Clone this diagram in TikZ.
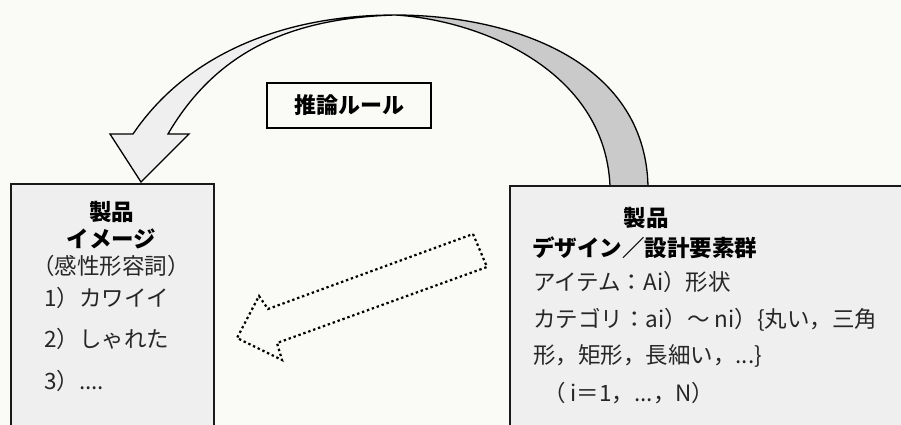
\documentclass[tikz,border=0pt]{standalone}
\usepackage{fontspec}
\setmainfont{Noto Sans CJK JP}
\definecolor{bg}{HTML}{FAFAF6}
\definecolor{boxfill}{HTML}{EFEFEF}
\definecolor{darkband}{HTML}{C9CAC9}
\begin{document}
\begin{tikzpicture}[x=1pt,y=-1pt,
  txt/.style={inner sep=0pt, anchor=west, font=\fontsize{22.5}{22.5}\selectfont, text=black!85},
  hd/.style={inner sep=0pt, font=\fontsize{22.5}{22.5}\selectfont\bfseries},
  panel/.style={draw=black!90, line width=1.6pt, fill=boxfill, anchor=north west, inner sep=0pt},
  band/.style={draw=black, line width=1.3pt, line join=miter},
  dotarrow/.style={draw=black, line width=2.2pt, dash pattern=on 2.4pt off 2.8pt, line join=miter}]
\useasboundingbox (0,0) rectangle (901,425);
\fill[bg] (0,0) rectangle (901,425);
\clip (0,0) rectangle (901,425);
% curved arrow
\filldraw[band, fill=darkband] (395,15) .. controls (510,15) and (645,60) .. (648,186) -- (610,186) .. controls (605,70) and (480,20) .. (395,15) -- cycle;
\filldraw[band, fill=boxfill] (395,15) .. controls (290,15) and (190,50) .. (133,134) -- (110,134) -- (141,182) -- (189,134) -- (168,134) .. controls (220,45) and (300,18) .. (395,15) -- cycle;
% boxes
\node[panel, minimum width=203pt, minimum height=260pt] (img) at (10,183) {};
\node[panel, minimum width=410pt, minimum height=260pt] (des) at (509,185) {};
% rule label
\node[draw=black, line width=1.6pt, fill=bg, minimum width=164pt, minimum height=45pt, inner sep=0pt, font=\fontsize{22}{22}\selectfont\bfseries] (rule) at (349,105.5) {推論ルール};
% dotted arrow
\draw[dotarrow] (473,234) -- (487,267) -- (277,343) -- (282,360) -- (237,338) -- (259,296) -- (268,309) -- cycle;
% left box text
\node[hd] (l1) at (111.5,212) {製品};
\node[hd] (l2) at (111.5,239) {イメージ};
\node[txt, anchor=center] (l3) at (111,266) {（感性形容詞）};
\node[txt] (l4) at (44,298) {1）カワイイ};
\node[txt] (l5) at (44,339) {2）しゃれた};
\node[txt] (l6) at (44,381) {3）....};
% right box text
\node[hd] (r1) at (646,218) {製品};
\node[hd, anchor=west] (r2) at (532,248) {デザイン／設計要素群};
\node[txt] (r3) at (533,282) {アイテム：Ai）形状};
\node[txt] (r4) at (533,320) {カテゴリ：ai）～ ni）\{丸い，三角};
\node[txt] (r5) at (533,356) {形，矩形，長細い，...\}};
\node[txt] (r6) at (543,393) {（ i＝1，...，N）};
\end{tikzpicture}
\end{document}
